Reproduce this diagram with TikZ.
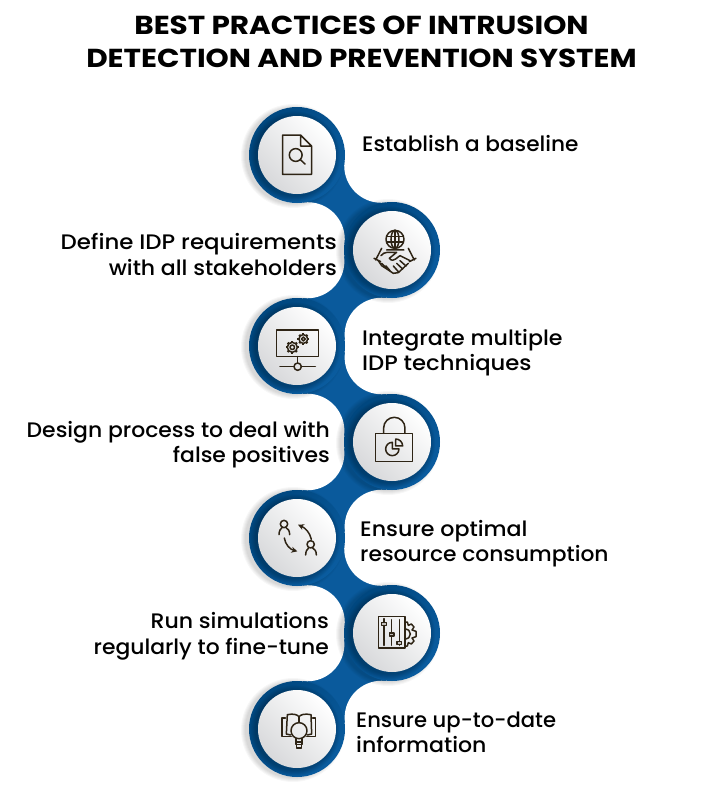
\documentclass[tikz,border=0pt]{standalone}
\usepackage{fontspec}
\usepackage{graphicx}
\setmainfont{Poppins}[UprightFont=* Medium,FakeStretch=1.03]
\newfontfamily\ttlfont{Poppins}[UprightFont=* Bold,FakeStretch=1.135]
\usetikzlibrary{arrows.meta,calc}
\definecolor{ico}{HTML}{2E2415}
\definecolor{body}{HTML}{0A5A9C}
\definecolor{ringa}{HTML}{00477F}
\definecolor{ringb}{HTML}{0A5C9F}
\definecolor{disc}{HTML}{D8D9DB}
\tikzset{
  icon/.style={draw=ico,line width=1.5pt,line cap=round,line join=round,fill=none},
  lab/.style={font=\fontsize{21}{25.5}\selectfont,text=black,inner sep=0pt},
  ttl/.style={font=\ttlfont\fontsize{26}{33}\selectfont,text=black,inner sep=0pt,align=center},
  zoomed/.style={shift={(#1)},x=0.3333pt,y=-0.3333pt}
}
\newcommand{\lw}[2]{\scalebox{#1}[1]{#2}}
\newcommand{\gearicon}[3]{% x y r
  \draw[icon] (#1,#2) circle[radius=#3];
  \draw[icon] (#1,#2) circle[radius=#3*0.45];
  \foreach \a in {0,45,...,315}{
    \draw[icon,line width=2.2pt,line cap=butt] ($(#1,#2)+(\a:#3)$) -- ($(#1,#2)+(\a:#3*1.32)$);
  }
}
\begin{document}
\begin{tikzpicture}[x=1pt,y=-1pt]
\useasboundingbox (0,0) rectangle (716,787);
\fill[white] (0,0) rectangle (716,787);
% ---- circle centres
\coordinate (c1) at (297,155);
\coordinate (c2) at (392,250);
\coordinate (c3) at (297,346);
\coordinate (c4) at (392,442);
\coordinate (c5) at (297,538);
\coordinate (c6) at (392,633);
\coordinate (c7) at (297,729);
% ---- connecting body
\foreach \x/\y/\dx/\dy in {297/155/95/95,392/250/-95/96,297/346/95/96,392/442/-95/96,297/538/95/95,392/633/-95/96}{
  \pgfmathsetmacro{\mx}{\x+\dx/2}
  \pgfmathsetmacro{\my}{\y+\dy/2}
  \pgfmathsetmacro{\ox}{\dy*52/134.5}
  \pgfmathsetmacro{\oy}{-\dx*52/134.5}
  \fill[body] (\x,\y) -- (\mx+\ox,\my+\oy) -- (\x+\dx,\y+\dy) -- (\mx-\ox,\my-\oy) -- cycle;
}
\foreach \x/\y/\dx/\dy in {297/155/95/95,392/250/-95/96,297/346/95/96,392/442/-95/96,297/538/95/95,392/633/-95/96}{
  \pgfmathsetmacro{\mx}{\x+\dx/2}
  \pgfmathsetmacro{\my}{\y+\dy/2}
  \pgfmathsetmacro{\ox}{\dy*52/134.5}
  \pgfmathsetmacro{\oy}{-\dx*52/134.5}
  \fill[white] (\mx+\ox,\my+\oy) circle[radius=37];
  \fill[white] (\mx-\ox,\my-\oy) circle[radius=37];
}
% ---- rings and discs
\foreach \n/\sx in {1/-4,2/-4,3/-4,4/-4,5/-4,6/-4,7/-4}{
  \foreach \r in {52,51,50,49,48}{
    \fill[black,opacity=0.03] ($(c\n)+(\sx,1)$) circle[radius=\r];
  }
  \shade[top color=ringa,bottom color=ringb,shading angle=45] (c\n) circle[radius=48];
  \foreach \r in {45,44,43,42,41,40}{
    \fill[black,opacity=0.04] ($(c\n)+(-2,1.5)$) circle[radius=\r];
  }
  \shade[top color=white,bottom color=disc,shading angle=-45] (c\n) circle[radius=39];
}
% ---- title and labels
\node[ttl] (title) at (361.5,41.5) {BEST PRACTICES OF INTRUSION\\DETECTION AND PREVENTION SYSTEM};
\node[lab,anchor=west] (t1) at (362,143.5) {Establish a baseline};
\node[lab,anchor=east,align=right] (t2) at (337,254.5) {\lw{1.057}{Define IDP requirements}\\\lw{1.018}{with all stakeholders}};
\node[lab,anchor=west,align=left] (t3) at (362,352.5) {\lw{1.025}{Integrate multiple}\\\lw{1.05}{IDP techniques}};
\node[lab,anchor=east,align=right] (t4) at (330,444.5) {\lw{1.013}{Design process to deal with}\\\lw{1.013}{false positives}};
\node[lab,anchor=west,align=left] (t5) at (360,543.5) {\lw{1.025}{Ensure optimal}\\\lw{1.008}{resource consumption}};
\node[lab,anchor=east,align=right] (t6) at (329,636.5) {\lw{1.02}{Run simulations}\\\lw{1.01}{regularly to fine-tune}};
\node[lab,anchor=west,align=left] (t7) at (356,732.5) {\lw{0.976}{Ensure up-to-date}\\\lw{1.02}{information}};
% ---- icon 1: document
\draw[icon] (300.5,135) -- (282.5,135) -- (282.5,174.3) -- (311.5,174.3) -- (311.5,146) -- (300.5,135) -- (300.5,146) -- (311.5,146);
\draw[icon] (295.7,155) circle[radius=6.4];
\draw[icon] (300.3,159.6) -- (305,164);
% ---- icon 2: globe and handshake
\begin{scope}[zoomed={230,95}]
\draw[icon] (495,433) circle[radius=27];
\draw[icon] (495,433) ellipse[x radius=12,y radius=27];
\draw[icon] (471,425) -- (519,425) (471,441) -- (519,441);
\draw[icon] (495,406) -- (495,460);
\draw[icon] (470,465) -- (522,465) (455,460) -- (437,495) (432,490) -- (452,500) (535,460) -- (553,495) (558,490) -- (538,500);
\draw[icon] (453,482) .. controls (458,476) and (464,472) .. (472,472) -- (500,472) -- (478,490) .. controls (484,498) and (492,497) .. (497,492) -- (510,482) -- (540,497);
\draw[icon] (445,497) -- (455,512) -- (490,535) -- (505,533) -- (535,505);
\draw[icon] (510,497) -- (528,513) (500,505) -- (518,522) (490,513) -- (505,530) (455,505) -- (468,518) (468,513) -- (480,527);
\end{scope}
% ---- icon 3: monitor with gears
\begin{scope}[zoomed={230,300}]
\draw[icon] (140,90) rectangle (265,170);
\draw[icon] (203,170) -- (203,189);
\draw[icon] (203,200) circle[radius=11];
\draw[icon] (150,200) -- (192,200) (214,200) -- (256,200);
\end{scope}
\gearicon{292.3}{347.3}{5}
\gearicon{303.3}{339}{4.4}
% ---- icon 4: lock with pie
\begin{scope}[zoomed={230,300}]
\draw[icon] (437,400) rectangle (548,485);
\draw[icon] (461,400) -- (461,384) arc[start angle=180,end angle=360,radius=32] -- (525,400);
\draw[icon] (487,427) arc[start angle=270,end angle=0,radius=20] -- (487,447) -- cycle;
\draw[icon] (497,419) -- (497,438) -- (518,438) arc[start angle=0,end angle=-90,radius=21];
\end{scope}
% ---- icon 5: people and arrows
\begin{scope}[zoomed={270,510}]
\draw[icon] (42,42) circle[radius=11];
\draw[icon] (27,74) .. controls (27,62) and (32,56) .. (36,53) (48,53) .. controls (54,56) and (59,62) .. (59,74);
\draw[icon] (122,103) circle[radius=11];
\draw[icon] (107,135) .. controls (107,123) and (112,117) .. (116,114) (128,114) .. controls (134,117) and (139,123) .. (139,135);
\draw[icon,-{Stealth[length=6pt,width=6pt]}] (124,88) .. controls (120,68) and (106,54) .. (84,44);
\draw[icon,-{Stealth[length=6pt,width=6pt]}] (43,84) .. controls (46,104) and (60,118) .. (82,124);
\end{scope}
% ---- icon 6: sliders and gear
\begin{scope}[zoomed={370,608}]
\draw[icon] (25,25) rectangle (105,120);
\draw[icon] (42,32) -- (42,112) (65,35) -- (65,112) (88,35) -- (88,112);
\draw[icon,fill=ico!30!white] (35,44) rectangle (49,53) (58,75) rectangle (72,84) (81,101) rectangle (95,110);
\draw[icon] (105,42) -- (112,42) -- (115,52) -- (124,48) -- (132,57) -- (126,66) -- (138,70) -- (138,86) -- (126,90) -- (132,99) -- (124,108) -- (115,104) -- (112,114) -- (105,114);
\draw[icon] (105,62) arc[start angle=-90,end angle=90,radius=16];
\end{scope}
% ---- icon 7: book with magnifier
\begin{scope}[zoomed={270,702}]
\draw[icon] (87,86) circle[radius=24];
\draw[icon] (78,110) -- (78,128) -- (96,128) -- (96,110) (78,120) -- (96,120);
\draw[icon] (80,128) -- (80,138) -- (94,138) -- (94,128);
\draw[icon] (62,99) -- (49,96) -- (52,38) .. controls (70,34) and (82,38) .. (87,44) .. controls (92,38) and (104,34) .. (123,38) -- (125,96) -- (112,99);
\draw[icon] (87,44) -- (87,60);
\draw[icon] (46,48) -- (36,48) -- (36,104) -- (64,104) (128,48) -- (137,48) -- (137,104) -- (110,104);
\end{scope}
\end{tikzpicture}
\end{document}
